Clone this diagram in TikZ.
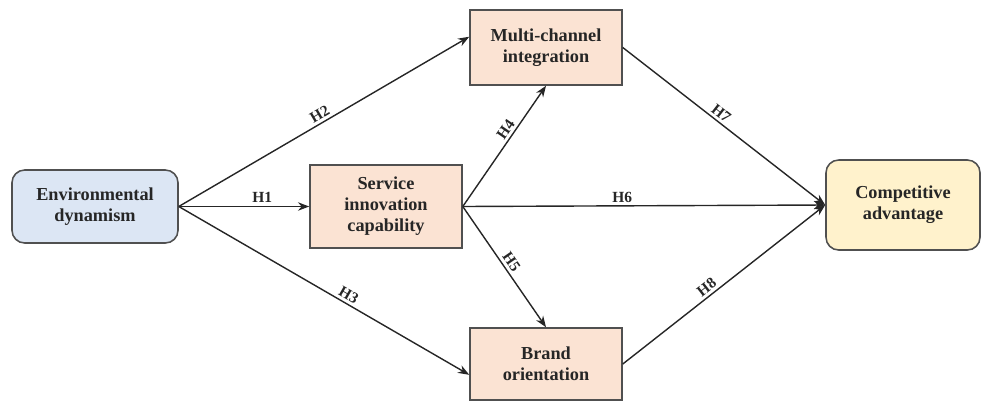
\documentclass[tikz,border=0pt]{standalone}
\usepackage{fontspec}
\setmainfont{Liberation Serif}
\usetikzlibrary{arrows.meta}
\definecolor{envblue}{HTML}{DCE6F4}
\definecolor{midpeach}{HTML}{FBE3D3}
\definecolor{advyellow}{HTML}{FFF2CC}
\definecolor{boxline}{HTML}{505050}
\tikzset{
  box/.style={draw=boxline, line width=1.1pt, align=center, text=black!85,
    font=\fontsize{13}{15}\selectfont\bfseries, inner sep=2pt},
  endbox/.style={box, rounded corners=9pt},
  path/.style={-{Stealth[length=8pt,width=6pt]}, line width=1pt, black!85},
  hyp/.style={font=\fontsize{11}{13}\selectfont\bfseries, text=black!85, sloped, above, inner sep=2pt}
}

\begin{document}
\begin{tikzpicture}[x=0.025cm, y=-0.025cm]
        % Marco del dibujo
        \useasboundingbox (0,0) rectangle (987,403);
        % Cajas de los constructos
        \node[endbox, fill=envblue, minimum width=166*0.025cm, minimum height=73*0.025cm] (env) at (95,206.5) {Environmental\\dynamism};
        \node[box, fill=midpeach, minimum width=152*0.025cm, minimum height=83*0.025cm] (sic) at (386,206.5) {Service\\innovation\\capability};
        \node[box, fill=midpeach, minimum width=152*0.025cm, minimum height=75*0.025cm] (mci) at (546,47.5) {Multi-channel\\integration};
        \node[box, fill=midpeach, minimum width=152*0.025cm, minimum height=72*0.025cm] (bo) at (546,364) {Brand\\orientation};
        \node[endbox, fill=advyellow, minimum width=154*0.025cm, minimum height=90*0.025cm] (ca) at (903,205) {Competitive\\advantage};

        % Hipotesis
        \draw[path] (env.east) -- node[hyp, pos=0.64] {H1} (sic.west);
        \draw[path] (env.east) -- node[hyp, pos=0.5] {H2} (mci.172);
        \draw[path] (env.east) -- node[hyp, pos=0.57] {H3} (bo.188);
        \draw[path] (sic.east) -- node[hyp, pos=0.6] {H4} (mci.south);
        \draw[path] (sic.east) -- node[hyp, pos=0.5] {H5} (bo.north);
        \draw[path] (sic.east) -- node[hyp, pos=0.44] {H6} (ca.west);
        \draw[path] (mci.east) -- node[hyp, pos=0.46] {H7} (ca.west);
        \draw[path] (bo.east) -- node[hyp, pos=0.44] {H8} (ca.west);
    \end{tikzpicture}
\end{document}
